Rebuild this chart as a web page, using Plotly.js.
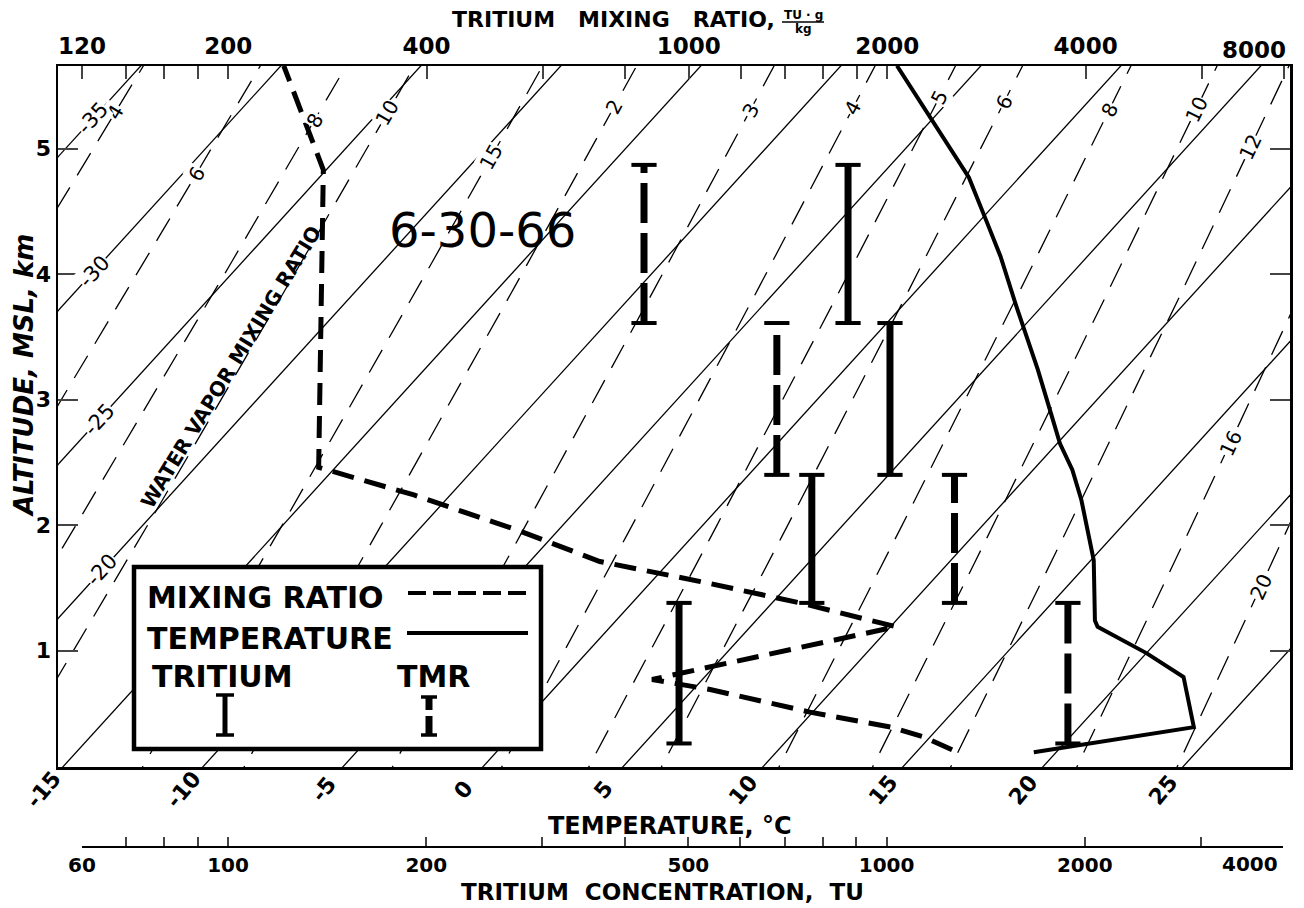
<!DOCTYPE html>
<html><head><meta charset="utf-8">
<script src="https://cdn.plot.ly/plotly-3.0.1.min.js"></script>
<style>html,body{margin:0;padding:0;background:#fff}</style>
</head><body><div id="chart" style="width:1304px;height:908px"></div>
<script>
// ---------------- data ----------------
// Temperature sounding (altitude km MSL, temperature °C)
const profileAltitudeKm = [0.19, 0.39, 0.79, 0.98, 1.19, 1.24, 1.72, 1.96, 2.20, 2.44, 2.65, 2.89, 3.24, 3.74, 4.14, 4.43, 4.77, 5.66];
const profileTemperatureC = [19.2, 24.1, 22.1, 20.0, 17.4, 17.1, 15.1, 13.9, 12.7, 11.4, 10.1, 8.8, 6.9, 4.1, 1.9, 0.2, -1.8, -8.0];
// Water-vapour mixing ratio profile, plotted as its dew point (°C)
const mixingAltitudeKm = [0.21, 0.31, 0.39, 0.51, 0.69, 0.77, 1.19, 1.38, 1.55, 1.71, 1.95, 2.24, 2.46, 4.83, 5.66];
const mixingDewpointC = [16.2, 14.8, 13.3, 9.9, 5.6, 3.2, 10.2, 6.0, 1.75, -2.5, -6.3, -11.3, -15.6, -25.1, -29.9];
// Sampling layers and tritium results
const layerBottomKm = [0.26, 1.38, 2.40, 3.61];
const layerTopKm = [1.38, 2.40, 3.61, 4.87];
const tritiumTU = [484, 770, 1012, 874];
const tmrTUgkg = [3760, 2530, 1360, 855];
// Diagram reference lines
const isothermsC = [-35, -30, -25, -20, -15, -10, -5, 0, 5, 10, 15, 20, 25];
const mixingRatioLinesGkg = [0.4, 0.6, 0.8, 1, 1.5, 2, 3, 4, 5, 6, 8, 10, 12, 16, 20];
const mixingRatioLabels = ['4', '6', '8', '10', '15', '2', '3', '4', '5', '6', '8', '10', '12', '16', '20'];
const mixingLabelAltKm = [5.29, 4.80, 5.23, 5.28, 4.93, 5.33, 5.31, 5.32, 5.41, 5.37, 5.31, 5.31, 5.01, 2.65, 1.51];
const isothermLabelsLeftC = [-35, -30, -25, -20];
const isothermLabelAltKm = [5.24, 4.02, 2.84, 1.64];
const temperatureTickC = [-15, -10, -5, 0, 5, 10, 15, 20, 25];
// Tick labels
const tuTickVals = [60, 70, 80, 90, 100, 200, 300, 400, 500, 600, 700, 800, 900, 1000, 2000, 3000, 4000];
const tuTickText = ['60', '', '', '', '100', '200', '', '', '500', '', '', '', '', '1000', '2000', '', ''];
const tmrTickVals = [120, 140, 160, 180, 200, 400, 600, 800, 1000, 1200, 1400, 1600, 1800, 2000, 4000, 6000, 8000];
const tmrTickText = ['120', '', '', '', '200', '400', '', '', '1000', '', '', '', '', '2000', '4000', '', ''];
const altitudeTicks = [1, 2, 3, 4, 5];

// ---------------- diagram geometry ----------------
const SKEW = 4.079;              // skew of isotherms, °C per km
const S_RANGE = [-14.875, 29.125];
const Z_RANGE = [0.0725, 5.658];
const FONT = 'DejaVu Sans';
function skewX(t, z) { return t + SKEW * z; }
function satTemp(w, z) {  // temperature where saturation mixing ratio = w (g/kg), standard atmosphere
  const p = 1013.25 * Math.pow(1 - 2.25577e-5 * z * 1000, 5.25588);
  const e = w * p / (622 + w);
  const L = Math.log(e / 6.112);
  return 243.5 * L / (17.67 - L);
}
function PX(x) { return (x - 58) / 1232; }
function PY(y) { return (847 - y) / 781; }

const traces = [];
// isotherms
{
  const xs = [], ys = [];
  isothermsC.forEach(t => { xs.push(skewX(t, -0.5), skewX(t, 6.5), null); ys.push(-0.5, 6.5, null); });
  traces.push({ x: xs, y: ys, mode: 'lines', line: { color: 'black', width: 1.3 }, hoverinfo: 'skip' });
}
// mixing ratio lines
{
  const xs = [], ys = [];
  mixingRatioLinesGkg.forEach(w => {
    for (let i = 0; i <= 62; i++) { const z = -0.1 + i * 0.1; xs.push(skewX(satTemp(w, z), z)); ys.push(z); }
    xs.push(null); ys.push(null);
  });
  traces.push({ x: xs, y: ys, mode: 'lines', line: { color: 'black', width: 1.3, dash: '26px,14px' }, hoverinfo: 'skip' });
}
// temperature profile
traces.push({ x: profileTemperatureC.map((t, i) => skewX(t, profileAltitudeKm[i])), y: profileAltitudeKm,
  mode: 'lines', line: { color: 'black', width: 4 } });
// mixing ratio profile
traces.push({ x: mixingDewpointC.map((t, i) => skewX(t, mixingAltitudeKm[i])), y: mixingAltitudeKm,
  mode: 'lines', line: { color: 'black', width: 5, dash: '22px,11px' } });
// tritium bars (bottom TU axis) and TMR bars (top axis)
function barTraces(vals, axis, dash) {
  const xs = [], ys = [], cx = [], cy = [];
  vals.forEach((v, i) => { xs.push(v, v, null); ys.push(layerBottomKm[i], layerTopKm[i], null);
    cx.push(v, v); cy.push(layerBottomKm[i], layerTopKm[i]); });
  traces.push({ x: xs, y: ys, xaxis: axis, yaxis: 'y', mode: 'lines', line: { color: 'black', width: 7, dash: dash } });
  traces.push({ x: cx, y: cy, xaxis: axis, yaxis: 'y', mode: 'markers',
    marker: { symbol: 'line-ew', size: 18, line: { color: 'black', width: 4 } } });
}
barTraces(tritiumTU, 'x2', 'solid');
barTraces(tmrTUgkg, 'x3', '40px,10px');

// ---------------- annotations ----------------
const ann = [];
function note(x, y, text, font, extra) {
  ann.push(Object.assign({ x: PX(x), y: PY(y), xref: 'paper', yref: 'paper', xanchor: 'center', yanchor: 'middle',
    showarrow: false, text: text, font: Object.assign({ family: FONT }, font) }, extra || {}));
}
// mixing ratio line labels
mixingRatioLinesGkg.forEach((w, i) => {
  const z = mixingLabelAltKm[i];
  const s1 = skewX(satTemp(w, z - 0.05), z - 0.05), s2 = skewX(satTemp(w, z + 0.05), z + 0.05);
  const ang = Math.atan2(125.5 * 0.1, 28 * (s2 - s1)) * 180 / Math.PI;
  ann.push({ x: skewX(satTemp(w, z), z), y: z, xref: 'x', yref: 'y', xanchor: 'center', yanchor: 'middle',
    text: mixingRatioLabels[i], showarrow: false,
    textangle: -ang, bgcolor: 'white', borderpad: 0, font: { family: FONT, size: 20 } });
});
// isotherm labels on the left
isothermLabelsLeftC.forEach((t, i) => {
  const z = isothermLabelAltKm[i];
  ann.push({ x: skewX(t, z), y: z, xref: 'x', yref: 'y', xanchor: 'center', yanchor: 'middle',
    text: String(t), showarrow: false, textangle: -47.7,
    bgcolor: 'white', borderpad: 0, font: { family: FONT, size: 21 } });
});
// temperature labels along the bottom
temperatureTickC.forEach(t => {
  ann.push({ x: skewX(t, Z_RANGE[0]), y: Z_RANGE[0] + 0.001, xref: 'x', yref: 'y', xanchor: 'center', yanchor: 'middle',
    text: String(t), showarrow: false,
    textangle: -50, xshift: -19, yshift: -23, font: { family: FONT, size: 22, weight: 'bold' } });
});
// last log-axis labels (kept inside the page)
note(1254, 50, '8000', { size: 23, weight: 'bold' });
note(1250, 864, '4000', { size: 20, weight: 'bold' });
// titles
note(450, 19, 'TRITIUM\u00a0\u00a0\u00a0MIXING\u00a0\u00a0\u00a0RATIO,', { size: 22, weight: 'bold' }, { xanchor: 'left' });
note(803, 15, 'TU\u00a0\u00b7\u00a0g', { size: 12, weight: 'bold' });
note(803, 29, 'kg', { size: 12, weight: 'bold' });
note(670, 826, 'TEMPERATURE,\u00a0°C', { size: 24, weight: 'bold' });
note(662, 892, 'TRITIUM\u00a0\u00a0CONCENTRATION,\u00a0\u00a0TU', { size: 23, weight: 'bold' });
note(24, 376, 'ALTITUDE,\u00a0MSL,\u00a0km', { size: 26, weight: 'bold', style: 'italic' }, { textangle: -90 });
note(231, 367, 'WATER VAPOR MIXING RATIO', { size: 20, weight: 'bold' }, { textangle: -58.6 });
note(482, 230, '6-30-66', { size: 48 });
// legend texts
note(145, 597, 'MIXING RATIO', { size: 30, weight: 'bold' }, { xanchor: 'left' });
note(145, 638, 'TEMPERATURE', { size: 30, weight: 'bold' }, { xanchor: 'left' });
note(150, 676, 'TRITIUM', { size: 30, weight: 'bold' }, { xanchor: 'left' });
note(395, 676, 'TMR', { size: 30, weight: 'bold' }, { xanchor: 'left' });

// ---------------- shapes (legend box, fraction bar) ----------------
function seg(x0, y0, x1, y1, w, dash) {
  return { type: 'line', xref: 'paper', yref: 'paper', x0: PX(x0), y0: PY(y0), x1: PX(x1), y1: PY(y1),
    line: { color: 'black', width: w, dash: dash || 'solid' }, layer: 'above' };
}
const shapes = [
  { type: 'rect', xref: 'paper', yref: 'paper', x0: PX(134), x1: PX(541), y0: PY(749), y1: PY(567),
    fillcolor: 'white', line: { color: 'black', width: 4.5 }, layer: 'above' },
  seg(408, 593, 528, 593, 4, '18px,7px'),
  seg(407, 633, 528, 633, 4),
  seg(225, 695, 225, 735, 5), seg(216, 695, 234, 695, 3.5), seg(216, 735, 234, 735, 3.5),
  seg(429, 697, 429, 710, 7), seg(429, 716, 429, 735, 7), seg(421, 697, 437, 697, 3.5), seg(421, 735, 437, 735, 3.5),
  seg(782, 22, 824, 22, 1.5)
];

const layout = {
  width: 1304, height: 908,
  margin: { l: 58, r: 14, t: 66, b: 61, pad: 0 },
  paper_bgcolor: 'white', plot_bgcolor: 'rgba(0,0,0,0)',
  showlegend: false,
  font: { family: FONT, color: 'black' },
  xaxis: { range: S_RANGE, showline: true, linewidth: 2.5, linecolor: 'black', ticks: '', showticklabels: false,
    showgrid: false, zeroline: false },
  xaxis2: { type: 'log', range: [Math.log10(60), Math.log10(4000)], domain: [PX(82), PX(1283)], anchor: 'free', position: 0,
    side: 'bottom', showline: true, linewidth: 2, linecolor: 'black', ticks: 'inside', ticklen: 9, tickwidth: 2,
    tickvals: tuTickVals, ticktext: tuTickText, tickfont: { family: FONT, size: 20, weight: 'bold' },
    showgrid: false, zeroline: false },
  xaxis3: { type: 'log', range: [2.04276, 3.91219], overlaying: 'x', side: 'top', anchor: 'y', showline: true,
    linewidth: 2.5, linecolor: 'black', ticks: 'inside', ticklen: 13, tickwidth: 2,
    tickvals: tmrTickVals, ticktext: tmrTickText, tickfont: { family: FONT, size: 23, weight: 'bold' },
    showgrid: false, zeroline: false },
  yaxis: { range: Z_RANGE, domain: [PY(767), 1], anchor: 'x', showline: true, linewidth: 2.5, linecolor: 'black',
    mirror: 'ticks', ticks: 'inside', ticklen: 20, tickwidth: 2, tickvals: altitudeTicks,
    tickfont: { family: FONT, size: 22, weight: 'bold' }, showgrid: false, zeroline: false },
  annotations: ann,
  shapes: shapes
};
Plotly.newPlot('chart', traces, layout, { staticPlot: true });
</script>
</body></html>
